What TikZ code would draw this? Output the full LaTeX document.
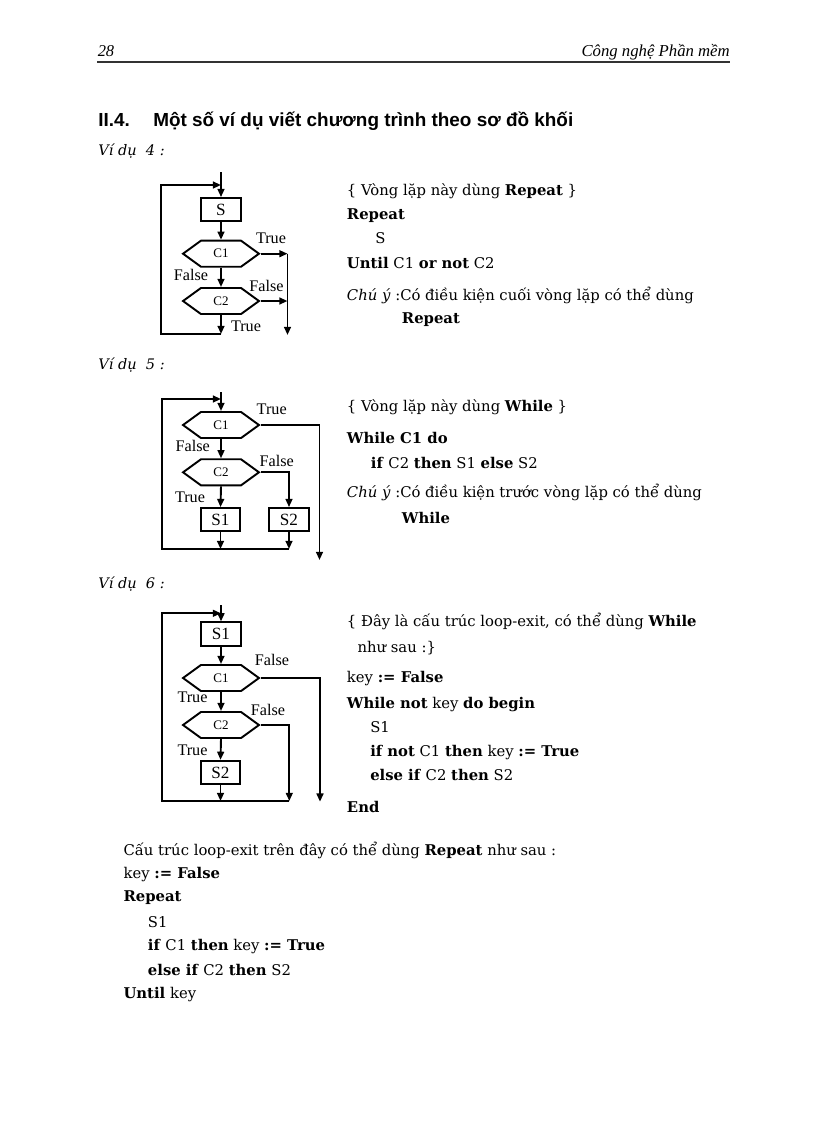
\documentclass[tikz,border=0pt]{standalone}
\usepackage{fontspec}
\setmainfont{DejaVu Serif}
\newfontfamily\hdfont{Liberation Serif}
\newfontfamily\headsans{Liberation Sans}
\newfontfamily\labfont{Liberation Serif}
\usetikzlibrary{arrows.meta,shapes.symbols}
\begin{document}
\begin{tikzpicture}[x=0.7295pt,y=-0.7295pt,
  txt/.style={anchor=base west,inner sep=0pt,font=\fontsize{10.8}{12}\selectfont},
  vd/.style={anchor=base west,inner sep=0pt,font=\fontsize{10.6}{12}\selectfont\itshape},
  lab/.style={inner sep=0pt,font=\labfont\fontsize{11.8}{12}\selectfont},
  box/.style={draw,line width=1.4pt,minimum width=29pt,minimum height=17pt,inner sep=0pt,font=\labfont\fontsize{12.5}{13}\selectfont},
  hex/.style={draw,line width=1.4pt,shape=signal,signal to=east and west,signal pointer angle=72,minimum width=55.4pt,minimum height=19pt,inner sep=0pt,font=\labfont\fontsize{9.5}{10}\selectfont},
  ar/.style={line width=1.4pt,-{Triangle[length=6pt,width=5pt]}}]
\useasboundingbox (0,0) rectangle (816,1123);
% header
\node[anchor=base west,inner sep=0pt,font=\hdfont\fontsize{12}{13}\selectfont\itshape] (pg) at (97.5,56.7) {28};
\node[anchor=base east,inner sep=0pt,font=\hdfont\fontsize{12.2}{13}\selectfont\itshape] (ttl) at (730,56.7) {Công nghệ Phần mềm};
\coordinate (r1) at (97,62);
\coordinate (r2) at (730,62);
\draw[line width=1.1pt,black!80] (r1) -- (r2);
\node[anchor=base west,inner sep=0pt,font=\headsans\fontsize{13.8}{15}\selectfont\bfseries] (h1) at (98,126.7) {II.4.};
\node[anchor=base west,inner sep=0pt,font=\headsans\fontsize{13.8}{15}\selectfont\bfseries] (h2) at (153,126.7) {Một số ví dụ viết chương trình theo sơ đồ khối};
\node[vd] (v4) at (98,155) {Ví dụ\ \ 4 :};
\node[vd] (v5) at (98,369) {Ví dụ\ \ 5 :};
\node[vd] (v6) at (98,588) {Ví dụ\ \ 6 :};

% ===== Example 4 diagram =====
\coordinate (a0) at (221,172);
\node[box] (aS) at (221,209.7) {S};
\node[hex] (aC1) at (221,253.7) {C1};
\node[hex] (aC2) at (221,301) {C2};
\coordinate (aB) at (221,334);
\coordinate (aBL) at (161,334);
\coordinate (aTL) at (161,185);
\coordinate (aT) at (221,185);
\coordinate (aR1) at (287.5,253.7);
\coordinate (aR2) at (287.5,301);
\coordinate (aRB) at (287.5,335);
\draw[ar] (a0) -- (aS.north);
\draw[ar] (aS.south) -- (aC1.north);
\draw[ar] (aC1.south) -- (aC2.north);
\draw[ar] (aC2.south) -- (aB);
\draw[ar] (aB) -- (aBL) -- (aTL) -- (aT);
\draw[ar] (aC1.east) -- (aR1);
\draw[ar] (aC2.east) -- (aR2);
\draw[ar] (aR1) -- (aRB);
\node[lab] (aL1) at (271,238) {True};
\node[lab] (aL2) at (191,275) {False};
\node[lab] (aL3) at (266.5,286) {False};
\node[lab] (aL4) at (246,326) {True};

% ===== Example 5 diagram =====
\coordinate (b0) at (221,392);
\node[hex] (bC1) at (221,425) {C1};
\node[hex] (bC2) at (221,472.3) {C2};
\node[box] (bS1) at (220.5,519.7) {S1};
\node[box] (bS2) at (289,519.7) {S2};
\coordinate (bR1) at (319.5,425);
\coordinate (bRB) at (319.5,560);
\coordinate (bR2) at (289,472.3);
\coordinate (bB1) at (220.5,549);
\coordinate (bB2) at (289,549);
\coordinate (bBL) at (161.7,549);
\coordinate (bTL) at (161.7,399);
\coordinate (bT) at (221,399);
\draw[ar] (b0) -- (bC1.north);
\draw[ar] (bC1.south) -- (bC2.north);
\draw[ar] (bC2.south) -- (bS1.north);
\draw[ar] (bC1.east) -- (bR1) -- (bRB);
\draw[ar] (bC2.east) -- (bR2) -- (bS2.north);
\draw[ar] (bS1.south) -- (bB1);
\draw[ar] (bS2.south) -- (bB2);
\draw[ar] (bB2) -- (bBL) -- (bTL) -- (bT);
\node[lab] (bL1) at (271.7,409) {True};
\node[lab] (bL2) at (192.7,446) {False};
\node[lab] (bL3) at (276.7,461) {False};
\node[lab] (bL4) at (190,497.3) {True};

% ===== Example 6 diagram =====
\coordinate (c0) at (221,605);
\node[box] (cS1) at (221,634) {S1};
\node[hex] (cC1) at (221,678) {C1};
\node[hex] (cC2) at (221,725) {C2};
\node[box] (cS2) at (220.5,772.5) {S2};
\coordinate (cR1) at (320,678);
\coordinate (cRB1) at (320,801.7);
\coordinate (cR2) at (289.3,725);
\coordinate (cRB2) at (289.3,801);
\coordinate (cB) at (220.5,801);
\coordinate (cBL) at (161.7,801);
\coordinate (cTL) at (161.7,613.3);
\coordinate (cT) at (221,613.3);
\draw[ar] (c0) -- (cS1.north);
\draw[ar] (cS1.south) -- (cC1.north);
\draw[ar] (cC1.south) -- (cC2.north);
\draw[ar] (cC2.south) -- (cS2.north);
\draw[ar] (cS2.south) -- (cB);
\draw[ar] (cC1.east) -- (cR1) -- (cRB1);
\draw[ar] (cC2.east) -- (cR2) -- (cRB2);
\draw[ar] (cRB2) -- (cBL) -- (cTL) -- (cT);
\node[lab] (cL1) at (272,660) {False};
\node[lab] (cL2) at (192.5,697.7) {True};
\node[lab] (cL3) at (268,710) {False};
\node[lab] (cL4) at (192.5,750) {True};

% ===== right texts =====
\node[txt] (t41) at (346.7,195) {\{ Vòng lặp này dùng \textbf{Repeat} \}};
\node[txt] (t42) at (346.7,219.3) {\textbf{Repeat}};
\node[txt] (t43) at (375,243.3) {S};
\node[txt] (t44) at (346.7,268.3) {\textbf{Until} C1 \textbf{or not} C2};
\node[txt] (t45) at (346.7,300) {\textit{Chú ý} :Có điều kiện cuối vòng lặp có thể dùng};
\node[txt] (t46) at (401.7,323.3) {\textbf{Repeat}};

\node[txt] (t51) at (346.7,411.7) {\{ Vòng lặp này dùng \textbf{While} \}};
\node[txt] (t52) at (346.7,443.3) {\textbf{While C1 do}};
\node[txt] (t53) at (370.7,468.3) {\textbf{if} C2 \textbf{then} S1 \textbf{else} S2};
\node[txt] (t54) at (346.7,497.3) {\textit{Chú ý} :Có điều kiện trước vòng lặp có thể dùng};
\node[txt] (t55) at (401.7,523.3) {\textbf{While}};

\node[txt] (t61) at (346.7,626) {\{ Đây là cấu trúc loop-exit, có thể dùng \textbf{While}};
\node[txt] (t62) at (357.3,652.7) {như sau :\}};
\node[txt] (t63) at (346.7,682.7) {key \textbf{:= False}};
\node[txt] (t64) at (346.7,708.3) {\textbf{While not} key \textbf{do begin}};
\node[txt] (t65) at (370,732.7) {S1};
\node[txt] (t66) at (370,756.7) {\textbf{if not} C1 \textbf{then} key \textbf{:= True}};
\node[txt] (t67) at (370,780.7) {\textbf{else if} C2 \textbf{then} S2};
\node[txt] (t68) at (346.7,812.7) {\textbf{End}};

% ===== bottom block =====
\node[txt] (u1) at (123.3,855) {Cấu trúc loop-exit trên đây có thể dùng \textbf{Repeat} như sau :};
\node[txt] (u2) at (123.3,878.3) {key \textbf{:= False}};
\node[txt] (u3) at (123.3,901.7) {\textbf{Repeat}};
\node[txt] (u4) at (147.7,927.3) {S1};
\node[txt] (u5) at (147.7,950.7) {\textbf{if} C1 \textbf{then} key \textbf{:= True}};
\node[txt] (u6) at (147.7,975) {\textbf{else if} C2 \textbf{then} S2};
\node[txt] (u7) at (123.3,998.3) {\textbf{Until} key};
\end{tikzpicture}
\end{document}
